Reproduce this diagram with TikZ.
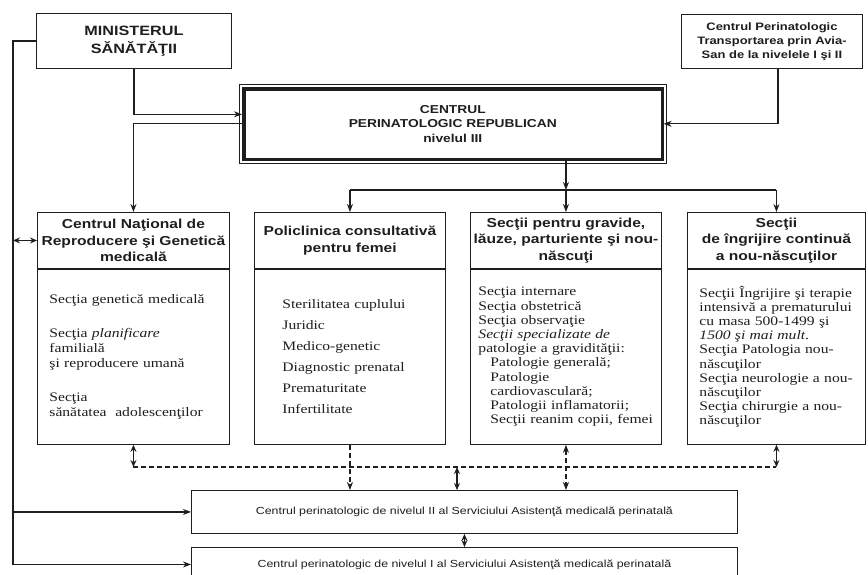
\documentclass[tikz,border=0pt]{standalone}
\usepackage{fontspec}
\setmainfont{Liberation Serif}[FakeStretch=1.2]
\setsansfont{Liberation Sans}[FakeStretch=1.2]
\usepackage{xcolor}
\usepackage{tikz}
\usetikzlibrary{arrows.meta, positioning}
\definecolor{ink}{RGB}{30, 30, 30}
\hyphenpenalty=10000
\exhyphenpenalty=10000
\tikzset{
	box/.style={draw=ink, line width=0.9pt, inner sep=0pt, anchor=north west, align=center, text=ink},
	headbox/.style={box, minimum height=56pt, font=\fontsize{13}{16.5}\selectfont\sffamily\bfseries},
	listbox/.style={box, minimum height=175pt, align=left, font=\fontsize{13}{14.2}\selectfont},
	levelbox/.style={box, text width=546pt, font=\fontsize{10.3}{12}\selectfont\sffamily},
	link/.style={draw=ink, line width=1.1pt, -{Stealth[length=8pt,width=6pt]}},
	twoway/.style={draw=ink, line width=1.1pt, {Stealth[length=7pt,width=6pt]}-{Stealth[length=7pt,width=6pt]}},
	dashlink/.style={draw=ink, line width=1.1pt, dash pattern=on 5pt off 3pt}
}

\begin{document}
\begin{tikzpicture}[x=1pt, y=-1pt]
	\useasboundingbox (0,0) rectangle (868,574);

	\node[box, text width=195pt, minimum height=55pt,
		font=\fontsize{13.5}{18.5}\selectfont\sffamily\bfseries] (min) at (36,13) {MINISTERUL\\SĂNĂTĂŢII};
	\node[box, text width=181pt, minimum height=54pt,
		font=\fontsize{10.8}{14.2}\selectfont\sffamily\bfseries] (tpa) at (681,14)
		{Centrul Perinatologic\\Transportarea prin Avia-\\San de la nivelele I şi II};
	\node[box, text width=419pt, minimum height=71pt, line width=2.6pt,
		font=\fontsize{11.5}{14.5}\selectfont\sffamily\bfseries] (cpr) at (242,87)
		{CENTRUL\\PERINATOLOGIC REPUBLICAN\\nivelul III};
	\draw[ink, line width=0.6pt] ([shift={(-2.8pt,2.8pt)}]cpr.north west) rectangle ([shift={(2.8pt,-2.8pt)}]cpr.south east);
	\draw[ink, line width=0.6pt] ([shift={(2.8pt,-2.8pt)}]cpr.north west) rectangle ([shift={(-2.8pt,2.8pt)}]cpr.south east);

	\node[headbox, text width=192pt] (cnrgH) at (37,212) {Centrul Naţional de\\Reproducere şi Genetică\\medicală};
	\node[headbox, text width=191pt] (polH) at (254,212) {Policlinica consultativă\\pentru femei};
	\node[headbox, text width=191pt] (grvH) at (470,212) {Secţii pentru gravide,\\lăuze, parturiente şi nou-\\născuţi};
	\node[headbox, text width=178pt] (ingH) at (687,212) {Secţii\\de îngrijire continuă\\a nou-născuţilor};

	\node[listbox, inner xsep=12pt, text width=168pt, font=\fontsize{13}{15}\selectfont] (cnrgB) at (cnrgH.south west)
		{Secţia genetică medicală\\[19pt]
		Secţia \textit{planificare}\\
		familială\\
		şi reproducere umană\\[19pt]
		Secţia\\
		sănătatea~ adolescenţilor};
	\node[listbox, inner xsep=28pt, text width=135pt, font=\fontsize{13}{21}\selectfont] (polB) at (polH.south west)
		{Sterilitatea cuplului\\Juridic\\Medico-genetic\\Diagnostic prenatal\\Prematuritate\\Infertilitate};
	\node[listbox, inner xsep=8pt, text width=175pt] (grvB) at (grvH.south west)
		{Secţia internare\\
		Secţia obstetrică\\
		Secţia observaţie\\
		\textit{Secţii specializate de}\\
		patologie a gravidităţii:\\
		\hspace*{12pt}Patologie generală;\\
		\hspace*{12pt}Patologie\\
		\hspace*{12pt}cardiovasculară;\\
		\hspace*{12pt}Patologii inflamatorii;\\
		\hspace*{12pt}Secţii reanim copii, femei};
	\node[listbox, inner xsep=12pt, text width=154pt] (ingB) at (ingH.south west)
		{Secţii Îngrijire şi terapie\\
		intensivă a prematurului\\
		cu masa 500-1499 şi\\
		\textit{1500 şi mai mult}.\\
		Secţia Patologia nou-\\
		născuţilor\\
		Secţia neurologie a nou-\\
		născuţilor\\
		Secţia chirurgie a nou-\\
		născuţilor};

	\node[levelbox, minimum height=43pt] (niv2) at (191,490)
		{Centrul perinatologic de nivelul II al Serviciului Asistenţă medicală perinatală};
	\node[levelbox, minimum height=34pt] (niv1) at (191,547)
		{Centrul perinatologic de nivelul I al Serviciului Asistenţă medicală perinatală};

	\draw[link] (min.south) |- ([yshift=9.5pt]cpr.west);
	\draw[link] (cpr.west) -| (cnrgH.north);
	\draw[link] ([xshift=6pt]tpa.south) |- (cpr.east);

	\coordinate (bus) at (0,190);
	\draw[link] (cpr.south -| grvH.north) -- (grvH.north |- bus);
	\draw[ink, line width=1.1pt] (polH.north |- bus) -- (ingH.north |- bus);
	\draw[link] (polH.north |- bus) -- (polH.north);
	\draw[link] (grvH.north |- bus) -- (grvH.north);
	\draw[link] (ingH.north |- bus) -- (ingH.north);

	\draw[link] (min.west) -- ++(-23,0) coordinate (lt) |- (niv1.west);
	\draw[link] (lt |- niv2.west) -- (niv2.west);
	\draw[twoway] (lt |- cnrgH.west) -- (cnrgH.west);

	\coordinate (dl) at (457,467);
	\draw[dashlink] (cnrgB.south |- dl) -- (ingB.south |- dl);
	\draw[twoway] (cnrgB.south) -- (cnrgB.south |- dl);
	\draw[twoway] (ingB.south) -- (ingB.south |- dl);
	\draw[twoway] (dl) -- (dl |- niv2.north);
	\draw[dashlink, -{Stealth[length=8pt,width=6pt]}] (polB.south) -- (polB.south |- niv2.north);
	\draw[dashlink, {Stealth[length=8pt,width=6pt]}-{Stealth[length=8pt,width=6pt]}] (grvB.south) -- (grvB.south |- niv2.north);
	\draw[twoway] (niv2.south) -- (niv1.north);
\end{tikzpicture}
\end{document}
